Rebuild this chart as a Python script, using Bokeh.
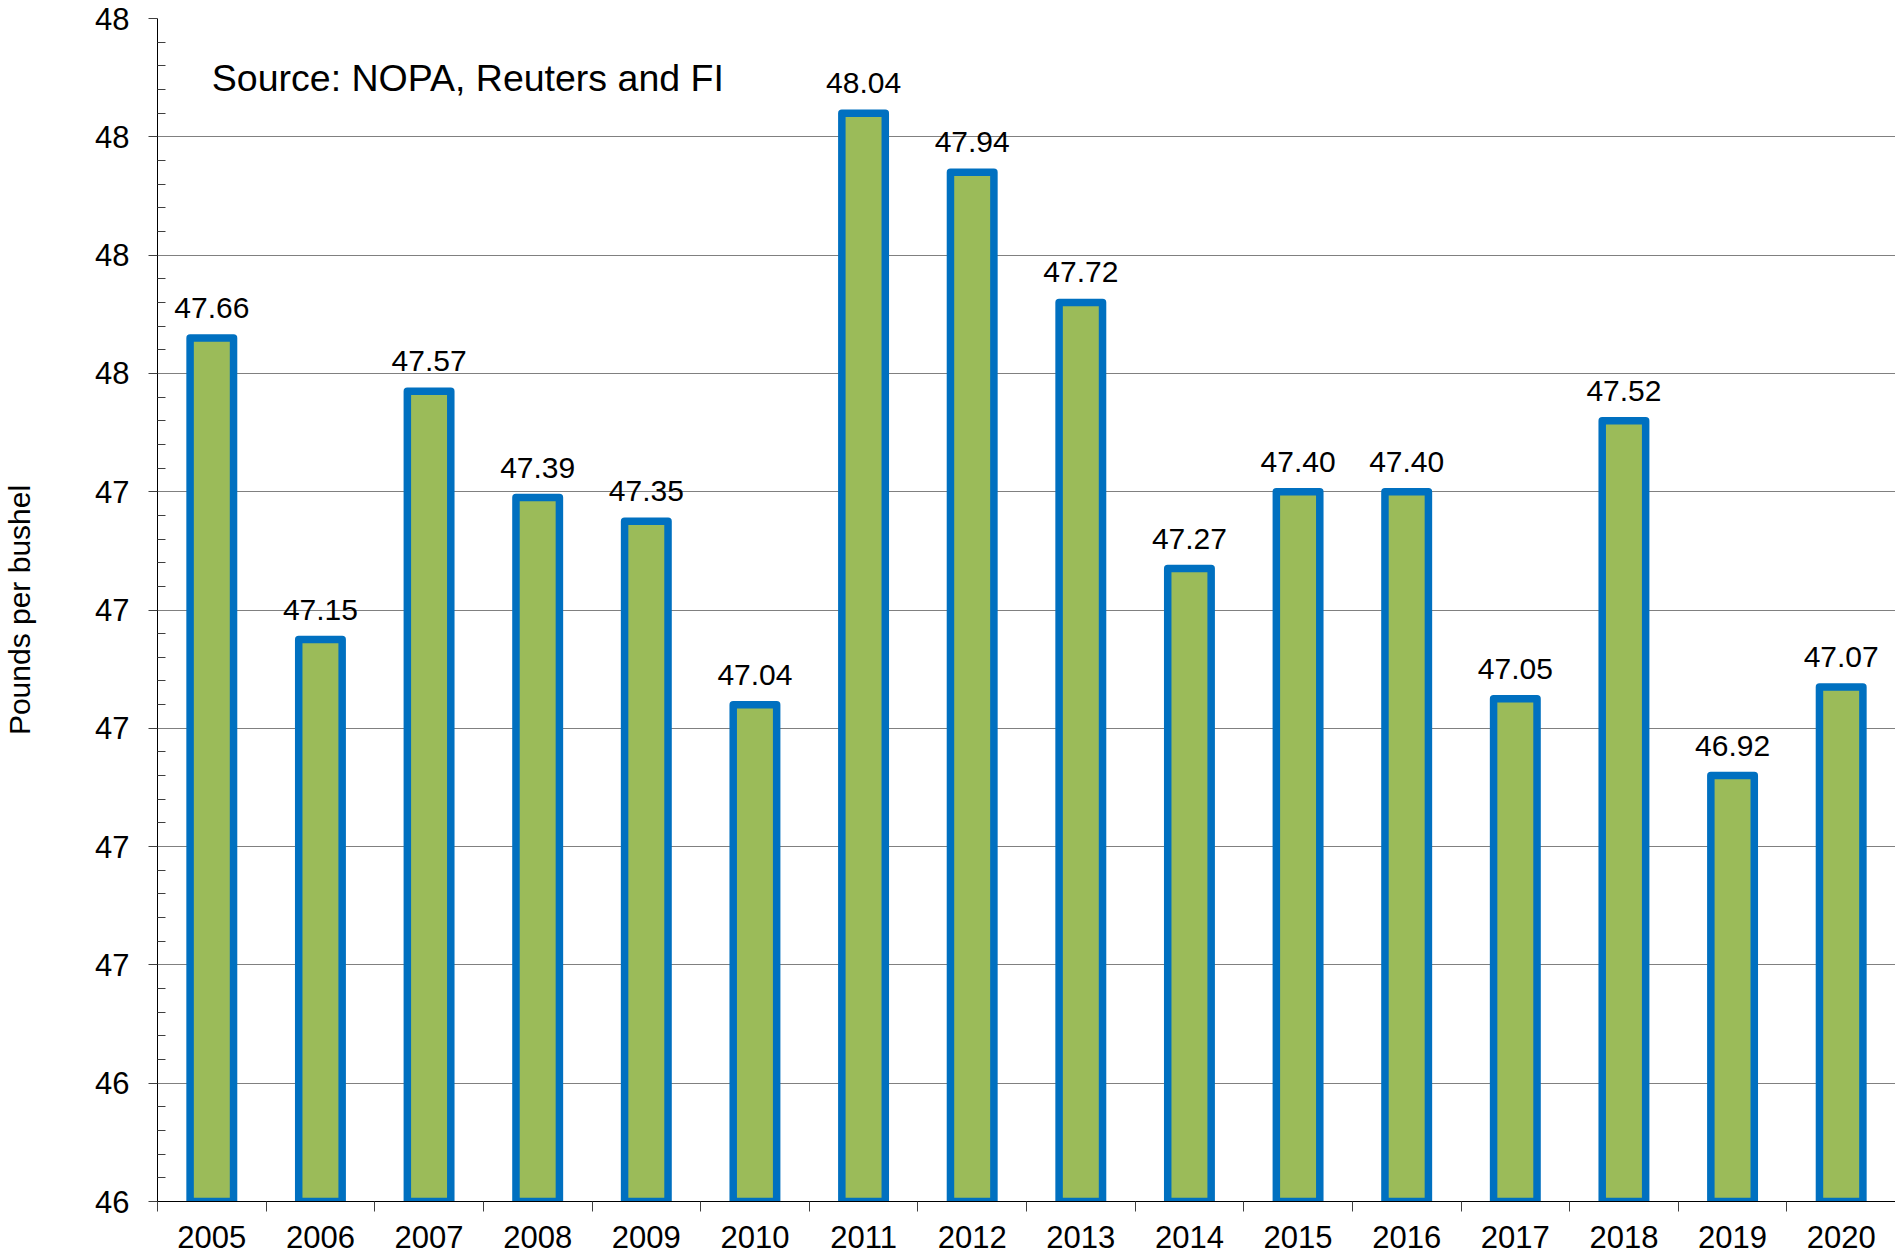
from bokeh.plotting import figure
from bokeh.models import (Range1d, FixedTicker, PrintfTickFormatter,
                          CustomJSTickFormatter, Label)
from bokeh.core.properties import value
from bokeh.embed import file_html
from bokeh.resources import INLINE

# ---- data ----
years = ["2005", "2006", "2007", "2008", "2009", "2010", "2011", "2012",
         "2013", "2014", "2015", "2016", "2017", "2018", "2019", "2020"]
pounds = [47.66, 47.15, 47.57, 47.39, 47.35, 47.04, 48.04, 47.94,
          47.72, 47.27, 47.40, 47.40, 47.05, 47.52, 46.92, 47.07]
y_ticks = [46.2, 46.4, 46.6, 46.8, 47.0, 47.2, 47.4, 47.6, 47.8, 48.0, 48.2]
y_min, y_max = 46.2, 48.2
source_text = "Source: NOPA, Reuters and FI"
y_title = "Pounds per bushel"

FONT = "Liberation Sans"
n = len(years)
x_pos = [i + 0.5 for i in range(n)]
labels = [f"{v:.2f}" for v in pounds]

minor_y = []
for a, b in zip(y_ticks[:-1], y_ticks[1:]):
    step = (b - a) / 5
    minor_y += [a + step * k for k in range(1, 5)]

p = figure(width=1895, height=1254, output_backend="svg", toolbar_location=None,
           x_range=Range1d(0, n), y_range=Range1d(y_min, y_max),
           min_border_left=155, min_border_right=0, min_border_top=18,
           min_border_bottom=53)
p.outline_line_color = None
p.background_fill_color = "white"
p.border_fill_color = "white"

p.vbar(x=x_pos, top=pounds, bottom=y_min, width=0.4,
       fill_color="#9BBB59", line_color="#0070C0", line_width=7.5,
       line_join="round")

p.text(x=x_pos, y=pounds, text=labels, text_align="center",
       text_baseline="alphabetic", y_offset=-30,
       text_font=value(FONT), text_font_size="30px", text_color="black")

p.add_layout(Label(x=0.5, y=48.099, text=source_text, text_font=FONT,
                   text_font_size="37.5px", text_color="black",
                   text_baseline="alphabetic"))

# x axis
xa = p.xaxis[0]
xa.ticker = FixedTicker(ticks=x_pos, minor_ticks=list(range(n + 1)))
xa.formatter = CustomJSTickFormatter(args=dict(labels=years),
                                     code="return labels[Math.floor(tick)];")
xa.major_tick_out = 0
xa.major_tick_in = 0
xa.minor_tick_out = 10
xa.minor_tick_in = 0
xa.minor_tick_line_color = "#404040"
xa.axis_line_color = "black"
xa.major_label_text_font = FONT
xa.major_label_text_font_size = "31px"
xa.major_label_text_color = "black"
xa.major_label_standoff = 14

# y axis
ya = p.yaxis[0]
ya.ticker = FixedTicker(ticks=y_ticks, minor_ticks=minor_y)
ya.formatter = PrintfTickFormatter(format="%.0f")
ya.major_tick_out = 9
ya.major_tick_in = 0
ya.minor_tick_in = 8
ya.minor_tick_out = 0
ya.major_tick_line_color = "#404040"
ya.minor_tick_line_color = "#404040"
ya.axis_line_color = "black"
ya.major_label_text_font = FONT
ya.major_label_text_font_size = "31px"
ya.major_label_text_color = "black"
ya.major_label_standoff = 19
ya.axis_label = y_title
ya.axis_label_text_font = FONT
ya.axis_label_text_font_size = "30px"
ya.axis_label_text_font_style = "normal"
ya.axis_label_text_color = "black"
ya.axis_label_standoff = 56

p.xgrid.grid_line_color = None
p.ygrid.grid_line_color = "#808080"
p.ygrid.grid_line_width = 1

open("out.html", "w").write(file_html(p, INLINE))
